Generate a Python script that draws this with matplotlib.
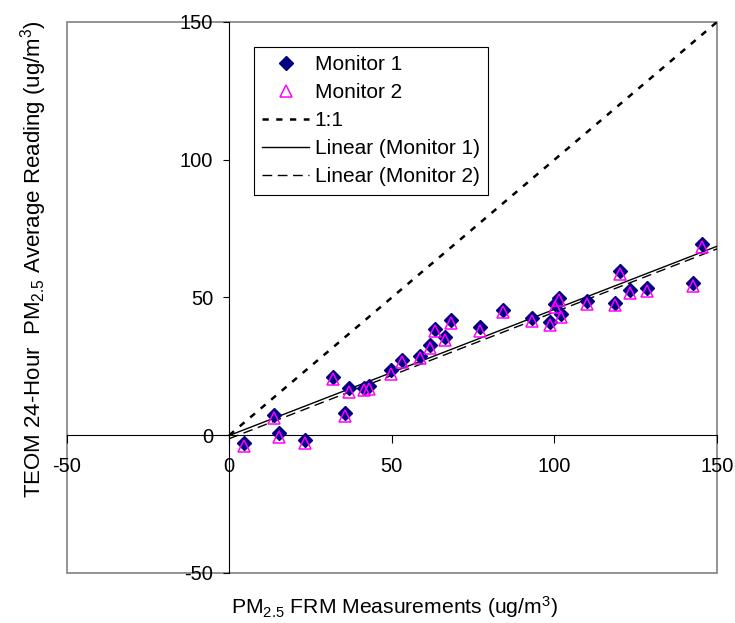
import matplotlib
matplotlib.use('Agg')
import matplotlib.pyplot as plt
from matplotlib.patches import Rectangle
import numpy as np

plt.rcParams['font.family'] = ['Liberation Sans', 'DejaVu Sans']
plt.rcParams['mathtext.default'] = 'regular'
plt.rcParams['axes.unicode_minus'] = False

# PM2.5 FRM measurements (x) and TEOM readings of the two monitors (y)
frm = [4.6, 13.8, 15.2, 23.4, 31.8, 35.7, 36.9, 41.5, 43.0, 49.8,
       53.2, 58.8, 61.8, 63.4, 66.5, 68.3, 77.2, 84.3, 93.0, 98.5,
       100.3, 101.5, 102.0, 110.0, 118.5, 120.3, 123.4, 128.6, 142.5, 145.5]
monitor1 = [-2.7, 7.2, 0.7, -1.8, 21.0, 8.0, 17.0, 17.3, 18.0, 23.5,
            27.4, 28.9, 32.9, 38.6, 35.7, 41.9, 39.4, 45.5, 42.6, 41.1,
            47.7, 49.8, 44.0, 48.7, 48.0, 59.6, 52.7, 53.4, 55.2, 69.3]
monitor2 = [-3.9, 6.2, -0.6, -3.0, 20.4, 6.9, 15.6, 16.3, 16.7, 22.3,
            26.4, 28.1, 31.8, 37.7, 34.6, 40.7, 38.0, 44.8, 41.6, 39.9,
            46.6, 49.0, 43.0, 47.6, 47.1, 58.4, 51.7, 52.3, 54.3, 68.5]
ticks = [-50, 0, 50, 100, 150]

fig = plt.figure(figsize=(7.35, 6.23), dpi=100)
ax = fig.add_axes([0.0907, 0.0803, 0.8848, 0.8844])

ax.plot(frm, monitor1, 'D', color='#000080', ms=7.5, label='Monitor 1', zorder=3)
ax.plot(frm, monitor2, '^', mfc='none', mec='#ff00ff', mew=1.1, ms=9,
        label='Monitor 2', zorder=4)

line_x = np.array([0, 150])
ax.plot(line_x, line_x, color='black', lw=1.8, linestyle=(0, (2.5, 3)), label='1:1')

# least-squares trendlines, like the spreadsheet's "Linear" series
p1 = np.polyfit(frm, monitor1, 1)
p2 = np.polyfit(frm, monitor2, 1)
ax.plot(line_x, np.polyval(p1, line_x), color='black', lw=1.0, label='Linear (Monitor 1)')
ax.plot(line_x, np.polyval(p2, line_x), color='black', lw=1.0,
        linestyle=(0, (7, 4)), label='Linear (Monitor 2)')

ax.set_xlim(-50, 150)
ax.set_ylim(-50, 150)
ax.set_xticks(ticks)
ax.set_yticks(ticks)

for s in ['top', 'right']:
    ax.spines[s].set_visible(False)
ax.spines['left'].set_position(('data', 0))
ax.spines['bottom'].set_position(('data', 0))
ax.spines['left'].set_linewidth(0.8)
ax.spines['bottom'].set_linewidth(0.8)
ax.add_patch(Rectangle((0, 0), 1, 1, transform=ax.transAxes, fill=False,
                       edgecolor='#808080', lw=1.2, clip_on=False, zorder=0))

ax.tick_params(axis='x', direction='out', length=6, width=0.8, labelsize=14.5, pad=10)
ax.tick_params(axis='y', direction='out', length=4.5, width=0.8, labelsize=14.5, pad=7)

fig.text(0.045, 0.584, r'TEOM 24-Hour  PM$_{2.5}$ Average Reading (ug/m$^3$)',
         rotation=90, ha='center', va='center', fontsize=16)
fig.text(0.536, 0.026, r'PM$_{2.5}$ FRM Measurements (ug/m$^3$)',
         ha='center', va='center', fontsize=15.2)

leg = ax.legend(loc='upper left', bbox_to_anchor=(0.288, 0.9546), borderaxespad=0,
                fontsize=15, frameon=True, fancybox=False, framealpha=1,
                edgecolor='black', handlelength=2.26, handletextpad=0.25,
                labelspacing=0.43, borderpad=0.4)
leg.get_frame().set_linewidth(0.8)

fig.savefig('out.png', dpi=100)
